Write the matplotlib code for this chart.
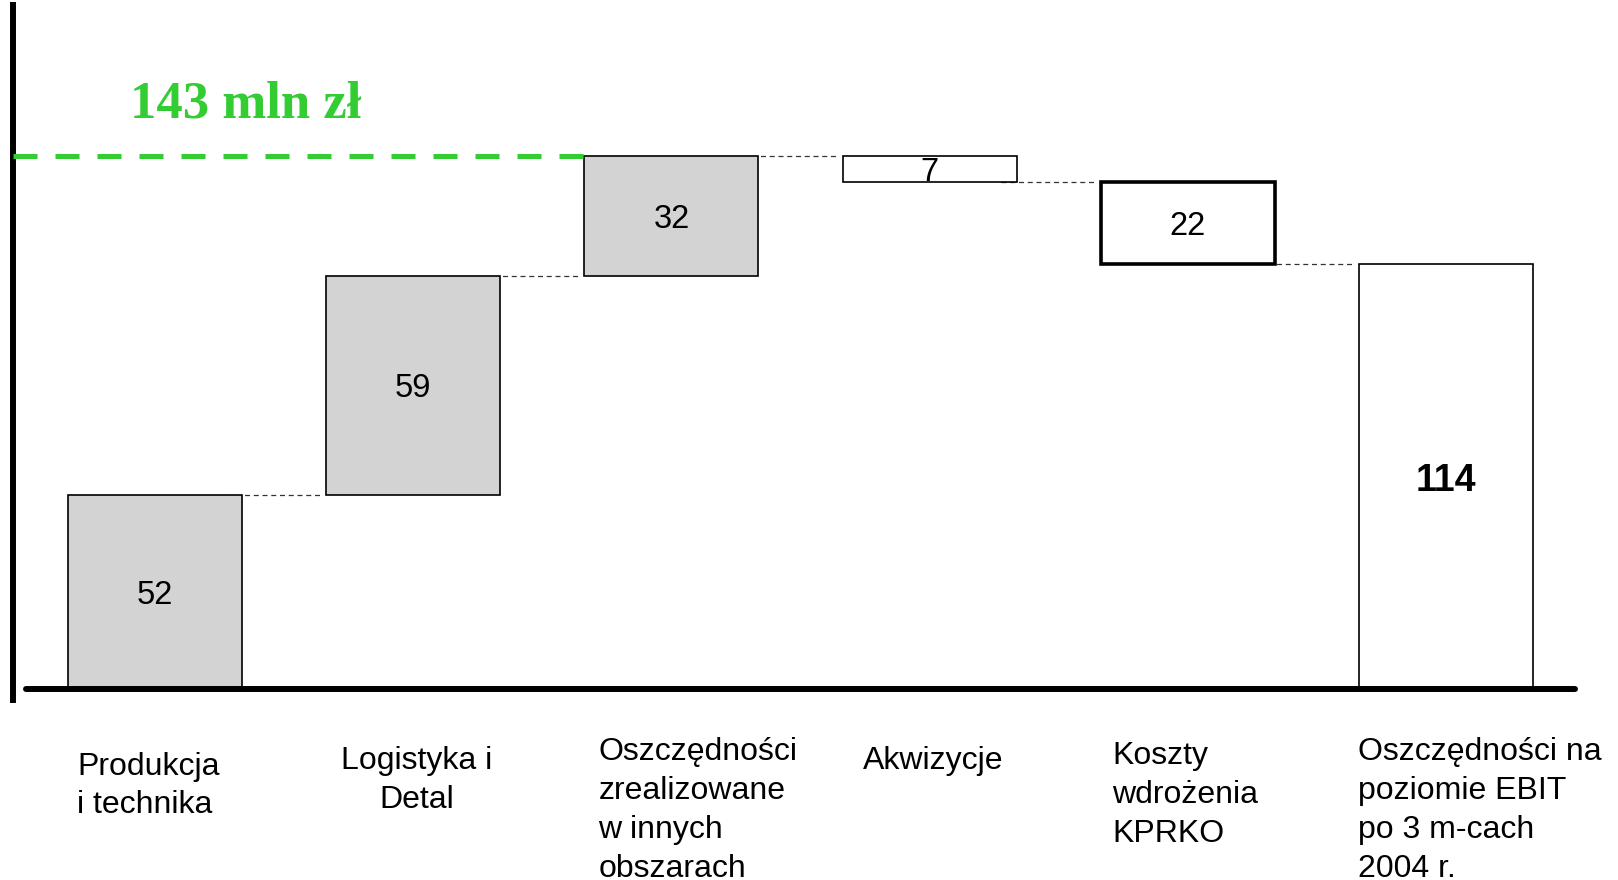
import numpy as np
import matplotlib
matplotlib.use("Agg")
import matplotlib.pyplot as plt

plt.rcParams['font.family'] = ['Liberation Sans', 'DejaVu Sans']

# data
categories = ["Produkcja\ni technika", "Logistyka i\nDetal",
              "Oszczędności\nzrealizowane\nw innych\nobszarach", "Akwizycje",
              "Koszty\nwdrożenia\nKPRKO",
              "Oszczędności na\npoziomie EBIT\npo 3 m-cach\n2004 r."]
changes = [52, 59, 32, -7, -22]
total = sum(changes)          # 114
peak = sum(changes[:3])       # 143
peak_label = "143 mln zł"

# layout / style
PX_X = 258.2    # px per category
PX_Y = 3.725    # px per unit
W, H = 1618, 880
X0, Y0 = 155, 689   # px position of first bar centre / baseline (from top)
bar_w = 174 / PX_X
fills = ['#d3d3d3'] * 3 + ['white'] * 3
edge_w = [1.2, 1.2, 1.2, 1.2, 2.6, 1.2]
green = '#33cc33'

# label placement: x offset from bar centre, alignment, y of text top
lab_dx = [-0.302, 0.012, -0.283, -0.259, -0.294, -0.341]
lab_ha = ['left', 'center', 'left', 'left', 'left', 'left']
lab_top = [-16.8, -15.4, -13.0, -15.2, -14.0, -13.0]

fig = plt.figure(figsize=(W / 100, H / 100), dpi=100)
ax = fig.add_axes([0, 0, 1, 1])
ax.set_xlim(-X0 / PX_X, (W - X0) / PX_X)
ax.set_ylim(-(H - Y0) / PX_Y, Y0 / PX_Y)

x = np.arange(len(categories))
starts = np.concatenate([[0], np.cumsum(changes)[:-1]])
bottoms = list(starts) + [0]
heights = list(changes) + [total]

ax.bar(x, heights, bottom=bottoms, width=bar_w, color=fills,
       edgecolor='black', linewidth=edge_w, zorder=2)

# connectors between bars
ends = np.cumsum(changes)
for i, lvl in enumerate(ends):
    ax.plot([x[i] + bar_w / 2 - 0.06, x[i + 1] - bar_w / 2 - 0.02], [lvl, lvl],
            color='#333333', lw=0.9, ls=(0, (4, 3)), zorder=1)

# value labels
for i in range(len(changes)):
    mid = starts[i] + changes[i] / 2
    ax.text(x[i], mid, str(abs(changes[i])), ha='center', va='center_baseline',
            fontsize=23.5, zorder=4)
ax.text(x[-1], total / 2, str(total), ha='center', va='center_baseline',
        fontsize=27, fontweight='bold', zorder=4)

# green target line and label
ax.plot([-0.55, x[2] - bar_w / 2], [peak, peak], color=green, lw=3.6,
        dashes=(4.8, 3.6), solid_capstyle='butt', zorder=3)
ax.text(-0.098, 153.3, peak_label, color=green, fontsize=38,
        fontweight='bold', family=['Liberation Serif', 'DejaVu Serif'],
        ha='left', va='baseline')

# category labels
for i, lab in enumerate(categories):
    ax.text(x[i] + lab_dx[i], lab_top[i], lab, ha=lab_ha[i], va='top',
            fontsize=23, linespacing=1.38, multialignment=lab_ha[i])

# axes lines
ax.set_xticks([])
ax.set_yticks([])
for s in ['top', 'right']:
    ax.spines[s].set_visible(False)
ax.spines['left'].set_position(('data', -0.55))
ax.spines['left'].set_bounds(-2.95, 183.6)
ax.spines['left'].set_linewidth(4.3)
ax.spines['bottom'].set_position(('data', 0))
ax.spines['bottom'].set_bounds(-0.5, 5.5)
ax.spines['bottom'].set_linewidth(4.3)
ax.spines['bottom'].set_capstyle('round')
ax.spines['bottom'].set_zorder(5)

fig.savefig("out.png", dpi=100)
